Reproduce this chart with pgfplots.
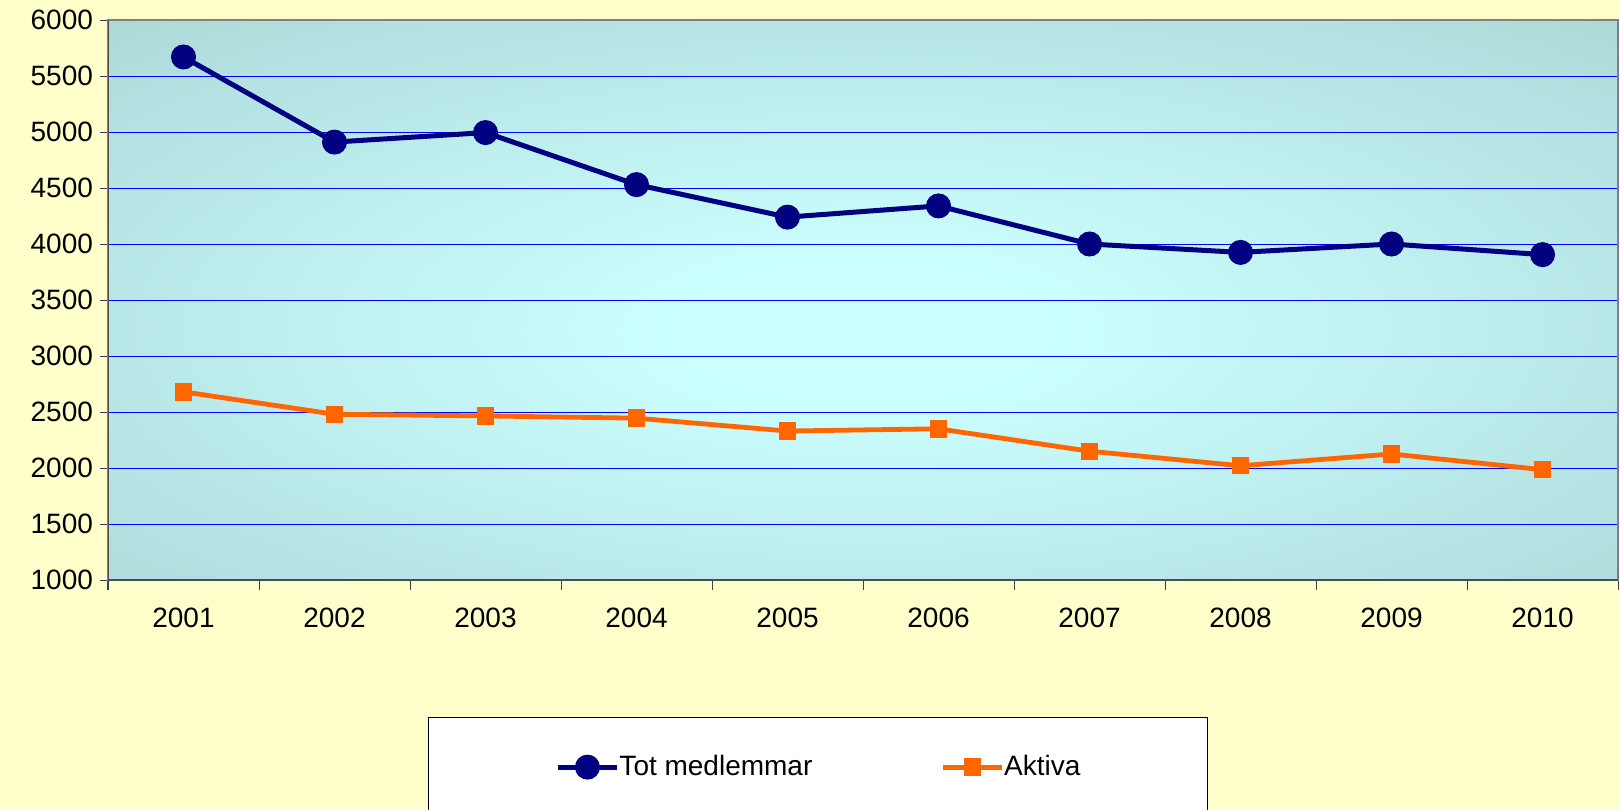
\documentclass[border=0pt]{standalone}
\usepackage{pgfplots}
\pgfplotsset{compat=1.18}
\usepackage{fontspec}
\setmainfont{Liberation Sans}
\definecolor{bgyellow}{RGB}{255,255,204}
\definecolor{navyline}{RGB}{0,0,128}
\definecolor{orangeline}{RGB}{255,102,0}
\definecolor{plotinner}{RGB}{204,255,255}
\definecolor{plotouter}{RGB}{160,200,200}
\definecolor{gridblue}{RGB}{0,0,255}
\pgfdeclareradialshading{plotbg}{\pgfpoint{0bp}{-3bp}}{color(0bp)=(plotinner); color(6bp)=(plotinner); color(50bp)=(plotouter); color(100bp)=(plotouter)}
\begin{document}
\begin{tikzpicture}
\clip (-54pt,-114.5pt) rectangle (756pt,290pt);
\fill[bgyellow] (-54pt,-114.5pt) rectangle (756pt,290pt);
\begin{axis}[
  at={(0pt,0pt)}, anchor=south west,
  scale only axis, width=755pt, height=280pt,
  xmin=-0.5, xmax=9.5, ymin=1000, ymax=6000,
  xtick={0,...,9},
  xticklabels={2001,2002,2003,2004,2005,2006,2007,2008,2009,2010},
  major x tick style={draw=none},
  minor xtick={-0.5,0.5,...,9.5},
  ytick={1000,1500,...,6000},
  tick pos=left,
  tick align=outside,
  major tick length=4pt, minor tick length=5pt,
  tick style={black!75, line width=0.5pt},
  ymajorgrids,
  major grid style={gridblue, line width=0.5pt},
  axis line style={draw=gray, line width=0.75pt},
  ticklabel style={font=\fontsize{14}{16}\selectfont},
  xticklabel style={yshift=-6.5pt},
  /pgf/number format/assume math mode=true,
  /pgf/number format/1000 sep={},
  axis background/.style={shading=plotbg},
  legend columns=2,
  legend style={at={(axis description cs:0.2119,-0.2446)}, anchor=north west,
    draw=black, line width=0.5pt, fill=white,
    inner xsep=63.5pt, inner ysep=17pt,
    font=\fontsize{14}{16}\selectfont,
    /tikz/every even column/.append style={column sep=64pt},
    nodes={inner xsep=0pt, inner ysep=2pt}},
  legend image code/.code={\draw[mark repeat=2,mark phase=2] plot coordinates {(0pt,0pt) (14.75pt,0pt) (29.5pt,0pt)};},
]
\addplot[navyline, line width=2.5pt, mark=*, mark size=6pt, mark options={line width=0.5pt, solid}]
  coordinates {(0,5670) (1,4910) (2,4995) (3,4530) (4,4240) (5,4340) (6,4000) (7,3925) (8,4000) (9,3905)};
\addlegendentry{Tot medlemmar}
\addplot[orangeline, line width=2.4pt, mark=square*, mark size=4.1pt, mark options={line width=0.5pt, solid}]
  coordinates {(0,2680) (1,2480) (2,2465) (3,2445) (4,2330) (5,2350) (6,2150) (7,2020) (8,2125) (9,1985)};
\addlegendentry{Aktiva}
\draw[black!70, line width=0.75pt] (rel axis cs:0,1) -- (rel axis cs:0,0) -- (rel axis cs:1,0);
\end{axis}
\end{tikzpicture}
\end{document}
